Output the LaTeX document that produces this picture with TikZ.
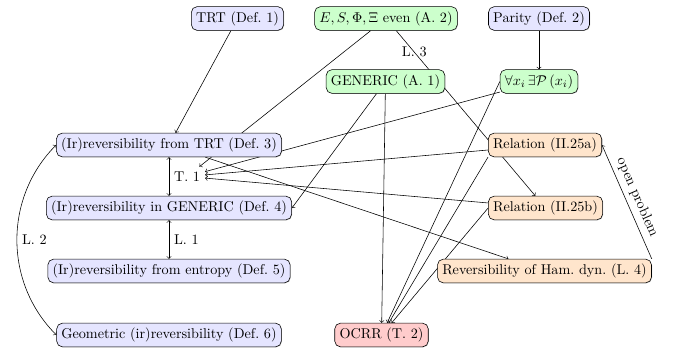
\documentclass[tikz,border=0pt]{standalone}
\usepackage{amsmath}
\usepackage{amssymb}
\usetikzlibrary{backgrounds,shadows}

\tikzset{
  box/.style={draw, rounded corners,
    drop shadow={shadow xshift=0.4pt, shadow yshift=-0.4pt, opacity=0.5}},
  defbox/.style={box, fill=blue!10},
  assbox/.style={box, fill=green!20},
  relbox/.style={box, fill=orange!20},
  thmbox/.style={box, fill=red!20},
}

\begin{document}
\begin{tikzpicture}[x=0.7042pt, y=-0.7042pt, >=to]
  \useasboundingbox (0,0) rectangle (674,353);

  % definitions and assumptions
  \node[defbox] (trt)     at (237.5,18.5) {TRT (Def.~1)};
  \node[assbox] (even)    at (386,18.5)   {$E, S, \Phi, \Xi$ even (A.~2)};
  \node[defbox] (parity)  at (539,18.5)   {Parity (Def.~2)};
  \node[assbox] (generic) at (385.5,81.5) {GENERIC (A.~1)};
  \node[assbox] (forall)  at (539,81.5)   {$\forall x_i \, \exists \mathcal{P} \left( x_i \right)$};
  \node[defbox] (def3)    at (169,145)    {(Ir)reversibility from TRT (Def.~3)};
  \node[defbox] (def4)    at (169,208)    {(Ir)reversibility in GENERIC (Def.~4)};
  \node[defbox] (def5)    at (169,271)    {(Ir)reversibility from entropy (Def.~5)};
  \node[defbox] (def6)    at (169,335)    {Geometric (ir)reversibility (Def.~6)};
  % relations and results
  \node[relbox] (rel25a)  at (545,145)    {Relation (II.25a)};
  \node[relbox] (rel25b)  at (545.5,208)  {Relation (II.25b)};
  \node[relbox] (ham)     at (544.5,271)  {Reversibility of Ham.\ dyn.\ (L.~4)};
  \node[thmbox] (ocrr)    at (381.5,335)  {OCRR (T.~2)};

  % equivalences between the definitions
  \draw[<->] (def3) -- node[right] (T1) {T.~1} (def4);
  \draw[<->] (def4) -- node[right] {L.~1} (def5);
  \draw[<->] (def3.west) to[bend right=45] node[right] {L.~2} (def6.west);

  \begin{scope}[on background layer]
    \draw[->] (trt) -- (def3);
    \draw[->] (parity) -- (forall);
    \draw[->] (even) -- (T1);
    \draw[->] (even) -- node[pos=0.13] {L.~3} (rel25b);
    \draw[->] (forall) -- (T1);
    \draw[->] (rel25a) -- (T1);
    \draw[->] (rel25b) -- (T1);
    \draw[->] (generic) -- (def4.east);
    \draw[->] (def3) -- (ham);
    % everything feeding the theorem
    \draw[->] (generic) -- (ocrr);
    \draw[->] (forall.west) -- (ocrr);
    \draw[->] (rel25a.south west) -- (ocrr);
    \draw[->] (rel25b.west) -- (ocrr);
    \draw[->] (ham.north east) -- node[sloped, above] {open problem} (rel25a.east);
  \end{scope}
\end{tikzpicture}
\end{document}
